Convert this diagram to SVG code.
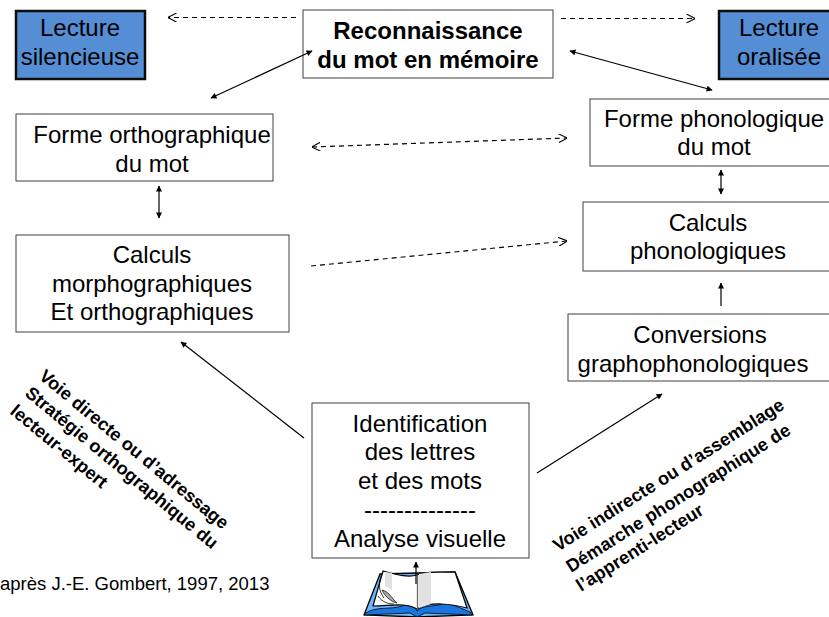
<svg xmlns="http://www.w3.org/2000/svg" width="829" height="617" viewBox="0 0 829 617">
<style>
text{font-family:"Liberation Sans",Arial,sans-serif;fill:#000}
.t{font-size:24px;text-anchor:middle}
.b{font-weight:bold}
.v{font-size:18.1px;font-weight:bold}
.n{fill:#fff;stroke:#404040;stroke-width:1}
.h{fill:#558ed5;stroke:#0d0d0d;stroke-width:2.5}
.c{fill:none;stroke:#000;stroke-width:1.2}
.d{stroke-dasharray:5 4}
</style>
<defs>
<marker id="s" viewBox="0 0 10 10" refX="9" refY="5" markerWidth="7" markerHeight="6" markerUnits="userSpaceOnUse" orient="auto-start-reverse"><path d="M0 0L10 5L0 10Z" fill="#000"/></marker>
<marker id="o" viewBox="0 0 10 10" refX="9.5" refY="5" markerWidth="9" markerHeight="9" markerUnits="userSpaceOnUse" orient="auto-start-reverse"><path d="M0 0L10 5L0 10" fill="none" stroke="#000" stroke-width="1.2"/></marker>
</defs>
<g id="lecture-silencieuse"><rect class="h" x="16" y="11" width="129" height="68"/><text class="t" x="80" y="36">Lecture</text><text class="t" x="80" y="65">silencieuse</text></g>
<g id="reconnaissance"><rect class="n" x="303" y="10" width="250" height="68"/><text class="t b" x="428" y="39">Reconnaissance</text><text class="t b" x="428" y="68">du mot en mémoire</text></g>
<g id="lecture-oralisee"><rect class="h" x="719" y="11" width="120" height="68"/><text class="t" x="779" y="36">Lecture</text><text class="t" x="779" y="65">oralisée</text></g>
<g id="forme-ortho"><rect class="n" x="16" y="114" width="257" height="67"/><text class="t" x="152" y="143">Forme orthographique</text><text class="t" x="152" y="172">du mot</text></g>
<g id="forme-phono"><rect class="n" x="590" y="99" width="250" height="67"/><text class="t" x="714" y="127">Forme phonologique</text><text class="t" x="714" y="155">du mot</text></g>
<g id="calculs-morpho"><rect class="n" x="16" y="235" width="273" height="97"/><text class="t" x="152" y="263">Calculs</text><text class="t" x="152" y="292">morphographiques</text><text class="t" x="152" y="320">Et orthographiques</text></g>
<g id="calculs-phono"><rect class="n" x="583" y="202" width="250" height="69"/><text class="t" x="708" y="231">Calculs</text><text class="t" x="708" y="259">phonologiques</text></g>
<g id="conversions"><rect class="n" x="568" y="314" width="270" height="67"/><text class="t" x="700" y="343">Conversions</text><text class="t" x="693" y="372">graphophonologiques</text></g>
<g id="identification"><rect class="n" x="312" y="403" width="217" height="155"/><text class="t" x="420" y="432">Identification</text><text class="t" x="420" y="460">des lettres</text><text class="t" x="420" y="489">et des mots</text><text class="t" x="420" y="518">--------------</text><text class="t" x="420" y="547">Analyse visuelle</text></g>
<g id="voie-directe">
<text class="v" transform="translate(38 378) rotate(39.500)">Voie directe ou d’adressage</text>
<text class="v" transform="translate(24 395) rotate(39.500)">Stratégie orthographique du</text>
<text class="v" transform="translate(9 413) rotate(39.500)">lecteur-expert</text>
</g>
<g id="voie-indirecte">
<text class="v" transform="translate(558 552) rotate(-32.300)">Voie indirecte ou d’assemblage</text>
<text class="v" transform="translate(571 573) rotate(-32.300)">Démarche phonographique de</text>
<text class="v" transform="translate(581 592) rotate(-32.300)">l’apprenti-lecteur</text>
</g>
<text id="source" x="0" y="590" font-size="18.500">après J.-E. Gombert, 1997, 2013</text>
<g id="book">
<path d="M364 615L380 574L455 572L473 615L417 617Z" fill="#6eb4fa" stroke="#000" stroke-width="1.3"/>
<path d="M366 613C376 606 390 610 402 606C410 604 415 607 417 611C422 605 432 607 443 604C452 603 460 608 470 612L472 615L425 613L417 617L410 613L364 615Z" fill="#1976e0" stroke="#000" stroke-width=".8"/>
<path d="M383 571C395 574 407 578 417 575C428 570 442 573 455 572L467 608C452 604 430 601 417 609C405 602 390 606 373 606Z" fill="#fff" stroke="#000" stroke-width="1.2"/>
<path d="M385 572L392 573V590L385 586Z" fill="#e2e2e2"/>
<path d="M419 574L431 572V604L419 608Z" fill="#e2e2e2"/>
<path d="M382 590C390 592 391 598 397 603C392 602 386 598 382 590Z" fill="#aaa" stroke="#000" stroke-width=".7"/>
<path d="M378 596C382 602 388 604 394 604M383 572C378 582 378 590 384 598" fill="none" stroke="#000" stroke-width=".8"/>
<path d="M417.500 575V609" stroke="#666" stroke-width="1.3"/>
<path d="M416 584V562" class="c" marker-end="url(#s)"/>
</g>
<g id="connectors">
<path class="c d" d="M296 17.500H168" marker-end="url(#o)"/>
<path class="c d" d="M561 18.500H695" marker-end="url(#o)"/>
<path class="c" d="M312 51L211 98" marker-start="url(#s)" marker-end="url(#s)"/>
<path class="c" d="M570 51L712 90" marker-start="url(#s)" marker-end="url(#s)"/>
<path class="c d" d="M312 147L567 138" marker-start="url(#o)" marker-end="url(#o)"/>
<path class="c" d="M159 186V218" marker-start="url(#s)" marker-end="url(#s)"/>
<path class="c" d="M721 170V194" marker-start="url(#s)" marker-end="url(#s)"/>
<path class="c d" d="M311 266L567 241" marker-end="url(#o)"/>
<path class="c" d="M721 306V283" marker-end="url(#s)"/>
<path class="c" d="M304 438L181 342" marker-end="url(#s)"/>
<path class="c" d="M537 473L662 394" marker-end="url(#s)"/>
</g>
</svg>
